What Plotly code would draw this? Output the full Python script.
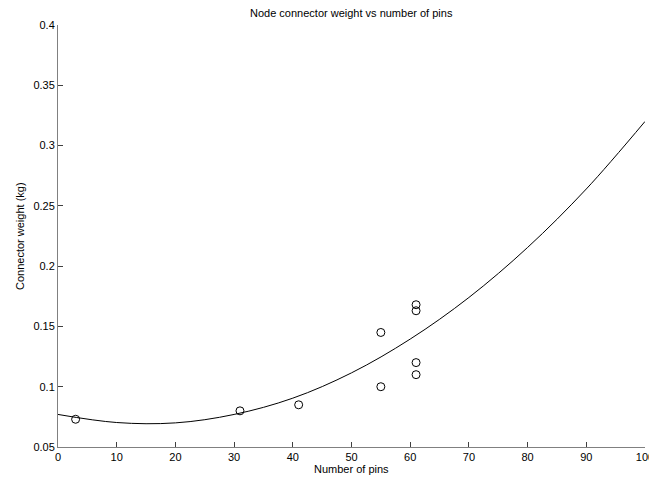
import plotly.graph_objects as go

# Measured data points
pins = [3, 31, 41, 55, 55, 61, 61, 61, 61]
weight = [0.073, 0.080, 0.085, 0.145, 0.100, 0.168, 0.163, 0.120, 0.110]

# Fitted curve
fit_x = [0, 10, 20, 30, 40, 50, 60, 70, 80, 90, 100]
fit_y = [0.077, 0.0703, 0.0700, 0.0770, 0.0905, 0.1115, 0.1395, 0.1740, 0.2155, 0.2640, 0.3200]

x_ticks = [0, 10, 20, 30, 40, 50, 60, 70, 80, 90, 100]
y_ticks = [0.05, 0.1, 0.15, 0.2, 0.25, 0.3, 0.35, 0.4]

title_text = "Node connector weight vs number of pins"
x_title = "Number of pins"
y_title = "Connector weight (kg)"

font = dict(family="Liberation Sans, Arial, sans-serif", size=11, color="#000000")

fig = go.Figure()
fig.add_trace(go.Scatter(x=fit_x, y=fit_y, mode="lines",
                         line=dict(color="black", width=1, shape="spline", smoothing=1.0),
                         showlegend=False, hoverinfo="skip", cliponaxis=False))
fig.add_trace(go.Scatter(x=pins, y=weight, mode="markers",
                         marker=dict(symbol="circle-open", size=8, color="black",
                                     line=dict(width=1, color="black")),
                         showlegend=False))

fig.update_layout(
    width=649, height=480,
    margin=dict(l=58, r=4, t=25, b=33, autoexpand=False),
    paper_bgcolor="white", plot_bgcolor="white",
    font=font,
    xaxis=dict(range=[0, 100], tickvals=x_ticks, ticktext=[str(v) for v in x_ticks],
               ticks="inside", ticklen=5, tickcolor="#404040", showline=True,
               linecolor="#808080", linewidth=1, showgrid=False, zeroline=False,
               automargin=False, tickfont=dict(size=11), mirror=False,
               ticklabeloverflow="allow"),
    yaxis=dict(range=[0.05, 0.4], tickvals=y_ticks, ticktext=[f"{v:g}" for v in y_ticks],
               ticks="inside", ticklen=5, tickcolor="#404040", showline=True,
               linecolor="#808080", linewidth=1, showgrid=False, zeroline=False,
               automargin=False, tickfont=dict(size=11), mirror=False,
               ticklabeloverflow="allow"),
    annotations=[
        dict(text=title_text, xref="paper", yref="paper", x=0.5, y=1.0, yshift=12,
             xanchor="center", yanchor="middle", showarrow=False, font=dict(size=11)),
        dict(text=x_title, xref="paper", yref="paper", x=0.5, y=0.0, yshift=-22,
             xanchor="center", yanchor="middle", showarrow=False, font=dict(size=11)),
        dict(text=y_title, xref="paper", yref="paper", x=0.0, y=0.5, xshift=-38,
             xanchor="center", yanchor="middle", textangle=-90, showarrow=False,
             font=dict(size=11)),
    ],
)

fig.write_html(
    "out.html",
    config={"displayModeBar": False},
    post_script="document.body.style.margin='0px';document.body.style.overflow='hidden';",
)
